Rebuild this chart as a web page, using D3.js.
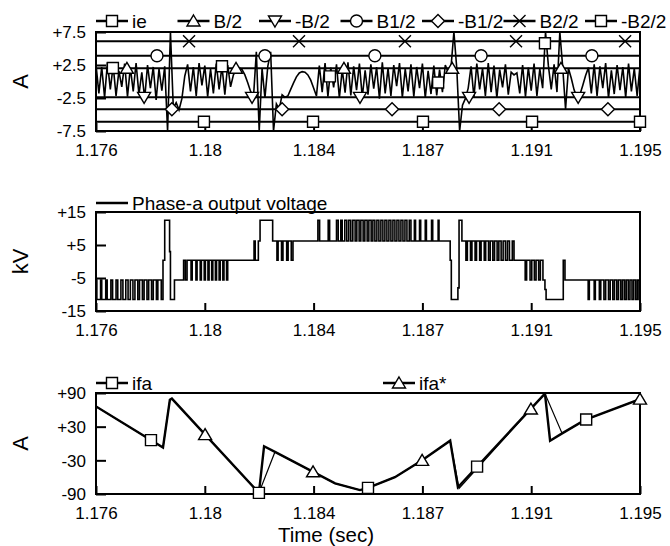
<!DOCTYPE html>
<html lang="en">
<head>
<meta charset="utf-8">
<title>Switching currents, output voltage and filter current</title>
<script src="https://cdnjs.cloudflare.com/ajax/libs/d3/7.8.5/d3.min.js"></script>
<style>
	body { margin: 0; background: #fff; }
	svg { display: block; font-family: "Liberation Sans", Arial, sans-serif; }
</style>
</head>
<body>
<div id="chart"></div>
<script>
// Tick values (time ticks are evenly spaced, labels rounded to 3 decimals)
const timeTicks = [1.176, 1.1798, 1.1836, 1.1874, 1.1912, 1.195];
const ieTicks = [-7.5, -2.5, 2.5, 7.5];
const kvTicks = [-15, -5, 5, 15];
const ifaTicks = [-90, -30, 30, 90];

// ie, sampled every 0.1 ms from 1.176 s
const ieStart = 1.176;
const ieStep = 0.0001;
const ieValues = [
	2.6, -1.8, 2.2, -2.4, 2.9, -1.2, 2.4, -2.2, 1.6, -0.8,
	2.7, -2.3, 2.1, -1.5, 2.8, -2.0, 1.4, -2.6, 2.5, -1.0,
	2.2, -2.8, 1.9, -1.4, 2.3, -7.5, 7.5, -4.0, -3.2, -4.3,
	-2.6, 0.8, 2.6, -1.5, 2.2, -2.2, 2.8, -0.6, 2.4, -2.3,
	1.9, -1.8, 2.7, -1.2, 2.3, -2.0, 2.5, -0.8, 1.0, 1.8,
	2.1, 1.8, 1.0, -0.2, -1.5, -2.4, 4.5, -7.5, 2.0, -2.5,
	2.3, 4.5, -7.5, -3.4, -4.2, -2.0, -2.4, -2.2, -1.2, -0.2,
	0.7, 1.3, 1.5, 1.4, 1.0, 0.2, -1.0, -2.2, 2.4, -1.6,
	2.8, -2.3, 2.1, -0.9, 2.6, -2.5, 1.8, -1.7, 2.9, -2.1,
	2.3, -1.3, 2.7, -2.4, 1.7, -2.0, 2.6, -1.1, 2.2, -2.6,
	2.9, -1.8, 2.0, -2.2, 2.5, -0.7, 2.8, -2.4, 1.9, -1.5,
	2.6, -2.3, 2.2, -1.0, 2.7, -2.5, 1.6, -1.9, 2.4, -2.1,
	1.8, -1.6, 2.5, 1.4, 2.2, 7.5, 2.0, -7.5, -3.6, -2.6,
	-1.0, 2.3, -2.4, 2.7, -1.2, 2.0, -2.2, 2.8, -1.6, 2.4,
	-2.5, 1.8, -0.9, 2.6, -2.0, 1.4, 1.0, 1.3, -1.8, 2.5,
	-2.3, 2.1, -1.4, 2.7, -2.2, 1.9, -1.0, 7.5, 2.4, -1.2,
	2.6, -1.6, 7.5, 2.2, -4.2, 2.0, 0.5, -1.3, -2.3, -2.0,
	-0.6, 0.9, 2.1, -1.8, 2.6, -2.2, 2.3, -1.0, 2.8, -2.5,
	1.7, -1.9, 2.5, -1.3, 2.2, -2.4, 2.7, -1.5, 2.0, -2.2,
	2.4
];
const ieMarkerTimes = [1.17659, 1.18040, 1.18417, 1.18795, 1.19168];

// Hysteresis band limits (A) and where their markers sit
const bandNames = ["B/2", "-B/2", "B1/2", "-B1/2", "B2/2", "-B2/2"];
const bandLevels = [2.0, -2.4, 3.9, -4.2, 6.1, -6.1];
const bandMarkerTimes = [
	[1.17708, 1.18089, 1.18466, 1.18844, 1.19224],
	[1.17768, 1.18145, 1.18522, 1.18903, 1.19284],
	[1.17813, 1.18190, 1.18574, 1.18945, 1.19332],
	[1.17865, 1.18250, 1.18634, 1.19008, 1.19388],
	[1.17925, 1.18309, 1.18679, 1.19067, 1.19448],
	[1.17977, 1.18358, 1.18742, 1.19123, 1.19500]
];

// Phase-a output voltage (kV), step changes [time, level]
const voltage = [
	[1.17600, -5.6], [1.17603, -11.5], [1.17616, -5.6], [1.17620, -11.5], [1.17634, -5.6],
	[1.17639, -11.5], [1.17652, -5.6], [1.17658, -11.5], [1.17670, -5.6], [1.17676, -11.5],
	[1.17687, -5.6], [1.17694, -11.5], [1.17704, -5.6], [1.17712, -11.5], [1.17720, -5.6],
	[1.17729, -11.5], [1.17736, -5.6], [1.17746, -11.5], [1.17752, -5.6], [1.17762, -11.5],
	[1.17768, -5.6], [1.17778, -11.5], [1.17784, -5.6], [1.17794, -11.5], [1.17800, -5.6],
	[1.17811, -11.5], [1.17816, -5.6], [1.17828, -11.5],
	[1.17834, 0.4], [1.17840, 12.5], [1.17857, 3], [1.17860, -11.5], [1.17874, -5.6],
	[1.17906, 0.4], [1.17912, -5.6], [1.17918, 0.4], [1.17932, -5.6], [1.17936, 0.4],
	[1.17949, -5.6], [1.17953, 0.4], [1.17964, -5.6], [1.17968, 0.4], [1.17978, -5.6],
	[1.17982, 0.4], [1.17991, -5.6], [1.17995, 0.4], [1.18004, -5.6], [1.18008, 0.4],
	[1.18017, -5.6], [1.18021, 0.4], [1.18030, -5.6], [1.18034, 0.4], [1.18043, -5.6],
	[1.18047, 0.4], [1.18056, -5.6], [1.18060, 0.4],
	[1.18152, 6.2], [1.18156, 0.4], [1.18167, 6.2], [1.18173, 12.5], [1.18217, 6.2],
	[1.18232, 0.4], [1.18236, 6.2], [1.18248, 0.4], [1.18253, 6.2], [1.18266, 0.4],
	[1.18271, 6.2], [1.18282, 0.4], [1.18288, 6.2],
	[1.18375, 12.5], [1.18381, 6.2], [1.18411, 12.5], [1.18416, 6.2],
	[1.18440, 12.5], [1.18446, 6.2], [1.18455, 12.5], [1.18460, 6.2], [1.18469, 12.5],
	[1.18476, 6.2], [1.18483, 12.5], [1.18490, 6.2], [1.18497, 12.5], [1.18505, 6.2],
	[1.18511, 12.5], [1.18519, 6.2], [1.18525, 12.5], [1.18533, 6.2], [1.18539, 12.5],
	[1.18547, 6.2], [1.18553, 12.5], [1.18561, 6.2], [1.18567, 12.5], [1.18574, 6.2],
	[1.18581, 12.5], [1.18588, 6.2], [1.18595, 12.5], [1.18602, 6.2], [1.18609, 12.5],
	[1.18616, 6.2], [1.18623, 12.5], [1.18630, 6.2], [1.18637, 12.5], [1.18644, 6.2],
	[1.18651, 12.5], [1.18658, 6.2], [1.18665, 12.5], [1.18672, 6.2], [1.18679, 12.5],
	[1.18686, 6.2], [1.18694, 12.5], [1.18700, 6.2], [1.18712, 12.5], [1.18716, 6.2],
	[1.18730, 12.5], [1.18734, 6.2], [1.18750, 12.5], [1.18754, 6.2], [1.18772, 12.5],
	[1.18776, 6.2], [1.18795, 12.5], [1.18798, 6.2],
	[1.18837, 0.4], [1.18841, -11.5], [1.18864, -8], [1.18868, 12.5], [1.18878, 6.2],
	[1.18892, 0.4], [1.18897, 6.2], [1.18908, 0.4], [1.18913, 6.2], [1.18924, 0.4],
	[1.18929, 6.2], [1.18940, 0.4], [1.18945, 6.2], [1.18956, 0.4], [1.18961, 6.2],
	[1.18971, 0.4], [1.18977, 6.2], [1.18986, 0.4], [1.18992, 6.2], [1.19001, 0.4],
	[1.19007, 6.2], [1.19015, 0.4], [1.19022, 6.2], [1.19030, 0.4], [1.19037, 6.2],
	[1.19044, 0.4], [1.19054, 6.2], [1.19060, 0.4],
	[1.19099, -5.6], [1.19104, 0.4], [1.19116, -5.6], [1.19122, 0.4], [1.19131, -5.6],
	[1.19137, 0.4], [1.19146, -5.6], [1.19152, 0.4], [1.19161, -5.6], [1.19168, -8.5],
	[1.19172, -11.5], [1.19232, 0.4], [1.19238, -5.6],
	[1.19319, -11.5], [1.19323, -5.6], [1.19340, -11.5], [1.19344, -5.6], [1.19358, -11.5],
	[1.19363, -5.6], [1.19374, -11.5], [1.19380, -5.6], [1.19390, -11.5], [1.19396, -5.6],
	[1.19405, -11.5], [1.19411, -5.6], [1.19419, -11.5], [1.19425, -5.6], [1.19433, -11.5],
	[1.19439, -5.6], [1.19446, -11.5], [1.19452, -5.6], [1.19459, -11.5], [1.19465, -5.6],
	[1.19472, -11.5], [1.19478, -5.6], [1.19485, -11.5], [1.19491, -5.6], [1.19497, -11.5],
	[1.19500, -11.5]
];

// Filter currents (A) [time, value]
const ifa = [
	[1.17600, 66], [1.17834, -7], [1.17858, 78], [1.17865, 80], [1.18169, -88],
	[1.18187, -5], [1.18225, -15], [1.18435, -71], [1.18522, -83], [1.18550, -79],
	[1.18644, -60], [1.18739, -30], [1.18837, 5], [1.18864, -78], [1.19168, 89],
	[1.19186, 5], [1.19228, 18], [1.19308, 42], [1.19500, 79]
];
const ifaRef = [
	[1.17600, 66], [1.17834, -7], [1.17858, 78], [1.17865, 80], [1.18169, -88],
	[1.18225, -15], [1.18435, -71], [1.18522, -83], [1.18550, -79],
	[1.18644, -60], [1.18739, -30], [1.18837, 5], [1.18868, -80], [1.19168, 89],
	[1.19228, 18], [1.19308, 42], [1.19500, 79]
];
const ifaMarkerTimes = [1.17792, 1.18169, 1.18550, 1.18931, 1.19312];
const ifaRefMarkerTimes = [1.17981, 1.18358, 1.18739, 1.19119, 1.19500];

// Chart dimensions
const width = 670;
const height = 546;
const left = 96;
const right = 640;

const svg = d3.select("#chart")
	.append("svg")
	.attr("width", width)
	.attr("height", height);

const x = d3.scaleLinear()
	.domain([1.176, 1.195])
	.range([left, right]);

const fmtTime = d => d3.format(".3f")(d).replace(/0+$/, "");
const fmtSigned = d => (d > 0 ? "+" : "") + d;

function markerPath(type) {
	switch (type) {
		case "square": return "M-5.5,-5.5H5.5V5.5H-5.5Z";
		case "up": return "M0,-6L6.5,5H-6.5Z";
		case "down": return "M0,6L6.5,-5H-6.5Z";
		case "circle": return "M6,0A6,6 0 1,1 -6,0A6,6 0 1,1 6,0Z";
		case "diamond": return "M0,-6.5L6.5,0L0,6.5L-6.5,0Z";
		case "x": return "M-6,-6L6,6M-6,6L6,-6";
	}
}

function drawMarker(g, type, px, py) {
	g.append("path")
		.attr("d", markerPath(type))
		.attr("transform", `translate(${px},${py})`)
		.attr("fill", type === "x" ? "none" : "#fff")
		.attr("stroke", "#000")
		.attr("stroke-width", 1.4);
}

// value on a polyline at time t (to sit markers on the trace)
function valueAt(series, t) {
	const i = d3.bisector(d => d[0]).left(series, t);
	if (i <= 0) return series[0][1];
	if (i >= series.length) return series[series.length - 1][1];
	const a = series[i - 1], b = series[i];
	return a[1] + (b[1] - a[1]) * (t - a[0]) / (b[0] - a[0]);
}

function drawPanel(id, y0, y1, domain, ticks, label) {
	const y = d3.scaleLinear().domain(domain).range([y1, y0]);
	const g = svg.append("g").attr("class", id);

	g.append("clipPath").attr("id", "clip-" + id)
		.append("rect")
		.attr("x", left).attr("y", y0)
		.attr("width", right - left).attr("height", y1 - y0);

	const xAxis = g.append("g")
		.attr("transform", `translate(0,${y1})`)
		.call(d3.axisBottom(x).tickValues(timeTicks).tickFormat(fmtTime)
			.tickSizeInner(-8).tickSizeOuter(0).tickPadding(13));
	xAxis.select(".domain").remove();
	xAxis.selectAll("line").attr("stroke", "#000").attr("stroke-width", 2);
	xAxis.selectAll("text")
		.attr("fill", "#000")
		.style("font-size", "17px")
		.style("font-family", "Liberation Sans, Arial, sans-serif");

	const yAxis = g.append("g")
		.attr("transform", `translate(${left},0)`)
		.call(d3.axisLeft(y).tickValues(ticks).tickFormat(fmtSigned)
			.tickSizeInner(-10).tickSizeOuter(0).tickPadding(10));
	yAxis.select(".domain").remove();
	yAxis.selectAll("line").attr("stroke", "#000").attr("stroke-width", 2);
	yAxis.selectAll("text")
		.attr("fill", "#000")
		.attr("dy", "0.35em")
		.style("font-size", "17px")
		.style("font-family", "Liberation Sans, Arial, sans-serif");

	g.append("text")
		.attr("transform", `translate(20,${(y0 + y1) / 2}) rotate(-90)`)
		.attr("text-anchor", "middle")
		.attr("dy", "0.35em")
		.style("font-size", "22px")
		.text(label);

	const plot = g.append("g").attr("clip-path", `url(#clip-${id})`);
	return { g, y, plot, y0, y1 };
}

function drawFrame(p) {
	p.g.append("rect")
		.attr("x", left).attr("y", p.y0)
		.attr("width", right - left).attr("height", p.y1 - p.y0)
		.attr("fill", "none")
		.attr("stroke", "#000")
		.attr("stroke-width", 2);
}

function legendItem(px, py, type, text, lineLen) {
	const g = svg.append("g");
	g.append("line")
		.attr("x1", px).attr("x2", px + lineLen)
		.attr("y1", py).attr("y2", py)
		.attr("stroke", "#000").attr("stroke-width", 2.5);
	if (type) drawMarker(g, type, px + lineLen / 2, py);
	g.append("text")
		.attr("x", px + lineLen + 4).attr("y", py)
		.attr("dy", "0.35em")
		.style("font-size", "19px")
		.text(text);
}

// Top panel: ie and bands
const iePanel = drawPanel("ie", 32, 131, [-7.5, 7.5], ieTicks, "A");
const ieSeries = ieValues.map((v, i) => [ieStart + i * ieStep, v]);
const bandTypes = ["up", "down", "circle", "diamond", "x", "square"];

bandLevels.forEach(lvl => {
	iePanel.plot.append("line")
		.attr("x1", x(1.176)).attr("x2", x(1.195))
		.attr("y1", iePanel.y(lvl)).attr("y2", iePanel.y(lvl))
		.attr("stroke", "#000").attr("stroke-width", 2);
});

iePanel.plot.append("path")
	.datum(ieSeries)
	.attr("fill", "none")
	.attr("stroke", "#000")
	.attr("stroke-width", 1.6)
	.attr("d", d3.line().x(d => x(d[0])).y(d => iePanel.y(d[1])));

drawFrame(iePanel);

bandLevels.forEach((lvl, k) => {
	bandMarkerTimes[k].forEach(t => drawMarker(iePanel.g, bandTypes[k], x(t), iePanel.y(lvl)));
});
ieMarkerTimes.forEach(t => drawMarker(iePanel.g, "square", x(t), iePanel.y(valueAt(ieSeries, t))));

const topLegend = ["ie"].concat(bandNames);
const topLegendTypes = ["square"].concat(bandTypes);
topLegend.forEach((name, i) => legendItem(96 + i * 81.5, 21, topLegendTypes[i], name, 32));

// Middle panel: phase-a output voltage
const kvPanel = drawPanel("kv", 212, 311, [-15, 15], kvTicks, "kV");
kvPanel.plot.append("path")
	.datum(voltage)
	.attr("fill", "none")
	.attr("stroke", "#000")
	.attr("stroke-width", 1.6)
	.attr("d", d3.line().x(d => x(d[0])).y(d => kvPanel.y(d[1])).curve(d3.curveStepAfter));
drawFrame(kvPanel);
legendItem(96, 203, null, "Phase-a output voltage", 32);

// Bottom panel: ifa and ifa*
const ifaPanel = drawPanel("ifa", 393, 494, [-90, 90], ifaTicks, "A");
ifaPanel.plot.append("path")
	.datum(ifaRef)
	.attr("fill", "none")
	.attr("stroke", "#000")
	.attr("stroke-width", 1.2)
	.attr("d", d3.line().x(d => x(d[0])).y(d => ifaPanel.y(d[1])));
ifaPanel.plot.append("path")
	.datum(ifa)
	.attr("fill", "none")
	.attr("stroke", "#000")
	.attr("stroke-width", 2.4)
	.attr("d", d3.line().x(d => x(d[0])).y(d => ifaPanel.y(d[1])));
drawFrame(ifaPanel);
ifaMarkerTimes.forEach(t => drawMarker(ifaPanel.g, "square", x(t), ifaPanel.y(valueAt(ifa, t))));
ifaRefMarkerTimes.forEach(t => drawMarker(ifaPanel.g, "up", x(t), ifaPanel.y(valueAt(ifaRef, t))));
legendItem(96, 383, "square", "ifa", 32);
legendItem(383, 383, "up", "ifa*", 32);

svg.append("text")
	.attr("x", 326).attr("y", 541.6)
	.attr("text-anchor", "middle")
	.style("font-size", "20.5px")
	.text("Time (sec)");
</script>
</body>
</html>
